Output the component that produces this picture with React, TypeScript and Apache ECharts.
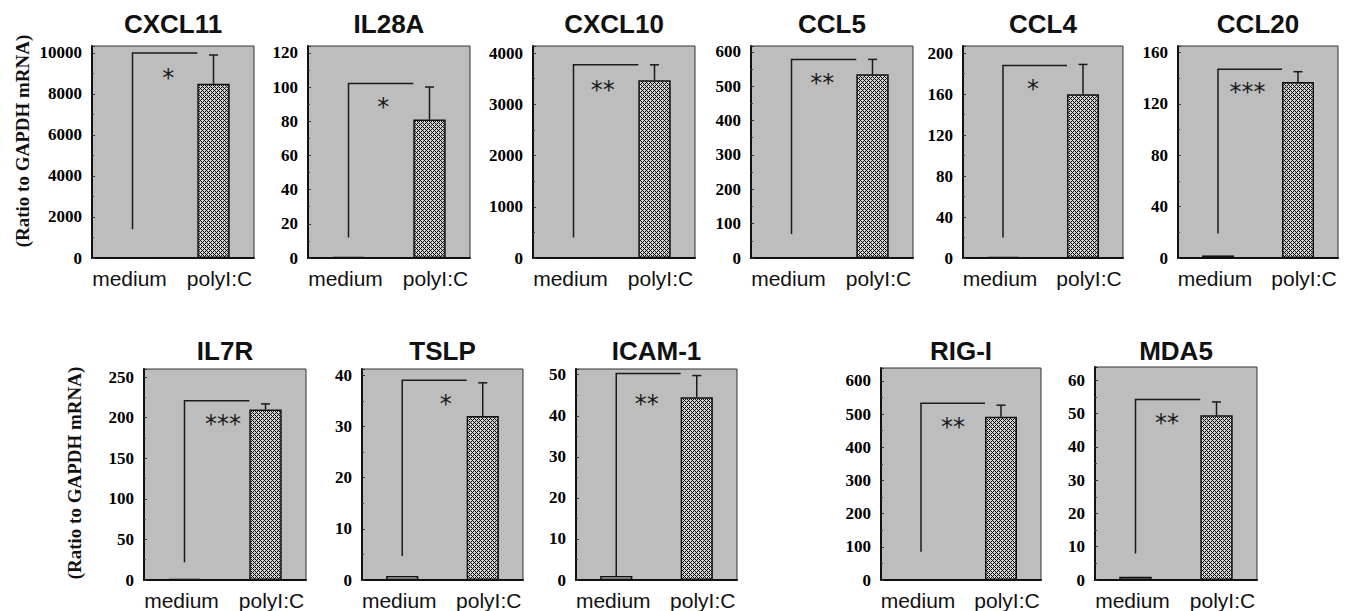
import React, { useEffect, useRef } from 'react';
import * as echarts from 'echarts';

// ---------- data ----------
const genes = ['CXCL11', 'IL28A', 'CXCL10', 'CCL5', 'CCL4', 'CCL20', 'IL7R', 'TSLP', 'ICAM-1', 'RIG-I', 'MDA5'];
const categories = ['medium', 'polyI:C'];
const mediumValues = [30, 0.6, 10, 1, 1, 2, 1.5, 0.8, 1, 0, 1];
const polyValues = [8500, 81, 3470, 535, 160, 137, 210, 32, 44.5, 492, 49.5];
const polyErrors = [1400, 19, 300, 43, 29, 8, 7, 6.5, 5.3, 35, 4];
const tickSteps = [2000, 20, 1000, 100, 40, 40, 50, 10, 10, 100, 10];
const axisMaxima = [10340, 124, 4137, 617, 207, 165, 260, 41.2, 51.4, 639, 64];
const bracketTops = [10000, 102, 3770, 578, 188, 147, 221, 39, 50.3, 533, 54.2];
const bracketBottoms = [1400, 12, 400, 70, 20, 19, 22, 4.7, 1, 85, 8];
const significance = ['*', '*', '**', '**', '*', '***', '***', '*', '**', '**', '**'];
const starLevels = [9000, 91, 3370, 525, 170, 133, 198, 35.3, 44, 475, 48.6];
const yAxisTitle = '(Ratio to GAPDH mRNA)';

// ---------- layout (pixels) ----------
const panelBoxes = [
  [92, 46, 162, 212],
  [308, 46, 162, 212],
  [533, 46, 162, 212],
  [751, 46, 162, 212],
  [963, 46, 160, 212],
  [1178, 46, 160, 212],
  [144, 369, 162, 214],
  [362, 369, 161, 214],
  [576, 369, 161, 214],
  [881, 368, 160, 214],
  [1095, 367, 162, 213],
];
const starFractions = [0.44, 0.43, 0.36, 0.38, 0.375, 0.37, 0.475, 0.54, 0.38, 0.4, 0.39];
const titleRowY = [24, 351];
const yTitlePositions = [[22, 141], [74, 473]];

function makeHatch() {
  const c = document.createElement('canvas');
  c.width = 4;
  c.height = 4;
  const ctx = c.getContext('2d');
  if (ctx) {
    ctx.fillStyle = '#d2d2d2';
    ctx.fillRect(0, 0, 4, 4);
    ctx.fillStyle = '#0a0a0a';
    for (let x = 0; x < 4; x++) {
      for (let y = 0; y < 4; y++) {
        if ((x + y) % 4 === 0 || (((x - y) % 4) + 4) % 4 === 0) ctx.fillRect(x, y, 1, 1);
      }
    }
  }
  return c;
}

export default function App() {
  const ref = useRef<HTMLDivElement>(null);

  useEffect(() => {
    if (!ref.current) return;
    const chart = echarts.init(ref.current, null, { renderer: 'svg' });
    const hatchCanvas = makeHatch();
    const hatch: any = { image: hatchCanvas, repeat: 'repeat', imageWidth: 4, imageHeight: 4 };

    const grids: any[] = [];
    const xAxes: any[] = [];
    const yAxes: any[] = [];
    const series: any[] = [];
    const graphics: any[] = [];

    genes.forEach((gene, i) => {
      const [left, top, width, height] = panelBoxes[i];
      const step = tickSteps[i];
      grids.push({
        left, top, width, height,
        show: true,
        backgroundColor: '#bdbdbd',
        borderColor: '#333',
        borderWidth: 1,
      });
      xAxes.push({
        gridIndex: i,
        type: 'category',
        data: categories,
        axisLine: { show: true, lineStyle: { color: '#111', width: 2 } },
        axisTick: { show: false },
        axisLabel: {
          interval: 0,
          hideOverlap: false,
          margin: 10,
          formatter: (v: string) => (v === 'medium' ? `{m|${v}}` : `{p|${v}}`),
          rich: {
            m: { fontFamily: 'Liberation Sans', fontSize: 21, color: '#111', padding: [0, 6, 0, 0] },
            p: { fontFamily: 'Liberation Sans', fontSize: 21, color: '#111', padding: [0, 0, 0, 12] },
          },
        },
      });
      yAxes.push({
        gridIndex: i,
        type: 'value',
        min: 0,
        max: axisMaxima[i],
        interval: step,
        splitLine: { show: false },
        axisLine: { show: true, lineStyle: { color: '#111', width: 2 } },
        axisTick: { show: true, inside: true, length: 3, lineStyle: { color: '#333' } },
        minorTick: { show: true, splitNumber: 2, length: 2, lineStyle: { color: '#444' } },
        axisLabel: {
          margin: 10,
          fontFamily: 'Liberation Serif',
          fontWeight: 'bold',
          fontSize: 17,
          color: '#000',
          formatter: (v: number) => (Math.abs(v / step - Math.round(v / step)) < 1e-6 ? String(v) : ''),
        },
      });
      series.push({
        type: 'bar',
        xAxisIndex: i,
        yAxisIndex: i,
        barWidth: '40%',
        itemStyle: { borderColor: '#111', borderWidth: 1.5 },
        data: [
          { value: mediumValues[i], itemStyle: { color: '#e4e4e4' } },
          { value: polyValues[i], itemStyle: { color: hatch } },
        ],
        z: 2,
      });
      series.push({
        type: 'custom',
        xAxisIndex: i,
        yAxisIndex: i,
        z: 3,
        data: [[1, polyValues[i]]],
        renderItem: (_p: any, api: any) => {
          const band = api.size([1, 0])[0];
          const low = api.coord([0, bracketBottoms[i]]);
          const high = api.coord([0, bracketTops[i]]);
          const bar = api.coord([1, polyValues[i]]);
          const err = api.coord([1, polyValues[i] + polyErrors[i]]);
          const star = api.coord([0, starLevels[i]]);
          const endX = bar[0] - band * 0.2;
          const stroke = { stroke: '#1a1a1a', lineWidth: 1.5 };
          return {
            type: 'group',
            children: [
              {
                type: 'polyline',
                shape: { points: [[low[0], low[1]], [high[0], high[1]], [endX, high[1]]] },
                style: { ...stroke, fill: 'none' },
              },
              { type: 'line', shape: { x1: bar[0], y1: bar[1], x2: bar[0], y2: err[1] }, style: stroke },
              { type: 'line', shape: { x1: bar[0] - 4.5, y1: err[1], x2: bar[0] + 4.5, y2: err[1] }, style: stroke },
              {
                type: 'text',
                x: low[0] + (bar[0] - low[0]) * starFractions[i],
                y: star[1] + 5,
                style: {
                  text: significance[i],
                  font: '24px "DejaVu Sans"',
                  fill: '#1a1a1a',
                  textAlign: 'center',
                  textVerticalAlign: 'middle',
                  align: 'center',
                  verticalAlign: 'middle',
                },
              },
            ],
          };
        },
      });
      graphics.push({
        type: 'text',
        x: left + width / 2,
        y: titleRowY[i < 6 ? 0 : 1],
        style: {
          text: gene,
          font: 'bold 26px "Liberation Sans"',
          fill: '#111',
          textAlign: 'center',
          textVerticalAlign: 'middle',
        },
      });
    });

    yTitlePositions.forEach(([x, y]) => {
      graphics.push({
        type: 'text',
        x,
        y,
        rotation: Math.PI / 2,
        style: {
          text: yAxisTitle,
          font: 'bold 19px "Liberation Serif"',
          fill: '#111',
          textAlign: 'center',
          textVerticalAlign: 'middle',
        },
      });
    });

    chart.setOption({
      animation: false,
      backgroundColor: '#ffffff',
      grid: grids,
      xAxis: xAxes,
      yAxis: yAxes,
      series,
      graphic: graphics,
    });

    return () => chart.dispose();
  }, []);

  return (
    <div
      ref={ref}
      style={{ position: 'fixed', left: 0, top: 0, width: 1353, height: 611, background: '#fff' }}
    />
  );
}
